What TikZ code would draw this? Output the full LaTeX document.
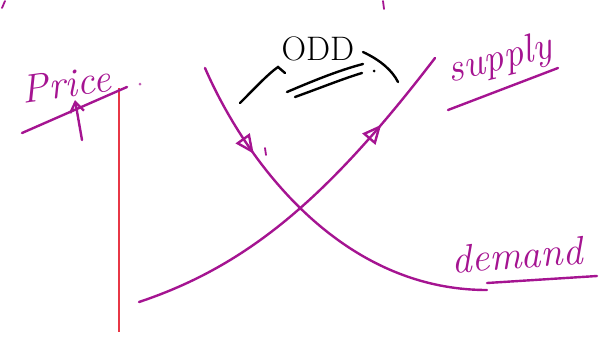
\documentclass[tikz,border=0pt]{standalone}
\usepackage{tikz}
\usetikzlibrary{arrows.meta,decorations.markings}

\definecolor{ink}{RGB}{165,20,145}
\definecolor{axisred}{RGB}{232,55,70}

\begin{document}
\begin{tikzpicture}[x=1pt,y=-1pt,
  pen/.style={draw=ink, line width=2.4pt, line cap=round},
  blk/.style={draw=black, line width=2.4pt, line cap=round},
  lbl/.style={text=ink, inner sep=0pt, font=\fontsize{40}{40}\selectfont\itshape},
  midarrow/.style={decoration={markings,
      mark=at position #1 with {\arrow{Triangle[open,length=19pt,width=17pt,line width=2.4pt]}}},
    postaction=decorate}
]
\useasboundingbox (0,0) rectangle (604,338);

% --- price axis ---
\coordinate (axtop) at (119,88);
\coordinate (axbot) at (119,332);
\draw[draw=axisred, line width=2.4pt] (axtop) -- (axbot);

\node[lbl, rotate=8] (price) at (66,84) {Price};
\coordinate (pu1) at (22,133);
\coordinate (pu2) at (127,87);
\draw[pen] (pu1) -- (pu2);
\coordinate (pa1) at (82,140);
\coordinate (pa2) at (75,100);
\draw[pen, -{Straight Barb[length=10pt,width=14pt]}] (pa1) -- (pa2);

% --- demand curve ---
\coordinate (d0) at (205,68);
\coordinate (d1) at (487,290);
\draw[pen, midarrow=0.26] (d0) .. controls (245,160) and (340,290) .. (d1);

\node[lbl, rotate=4] (demand) at (517,255) {demand};
\coordinate (du1) at (487,283);
\coordinate (du2) at (597,276);
\draw[pen] (du1) -- (du2);

% --- supply curve ---
\coordinate (s0) at (139,302);
\coordinate (s1) at (435,58);
\draw[pen, midarrow=0.78] (s0) .. controls (250,265) and (330,195) .. (s1);

\node[lbl, rotate=14] (supply) at (500,60) {supply};
\coordinate (su1) at (448,110);
\coordinate (su2) at (558,68);
\draw[pen] (su1) -- (su2);

% --- ODD remark ---
\node[text=black, inner sep=0pt, font=\fontsize{34}{34}\selectfont] (odd) at (318,49) {ODD};
\coordinate (la) at (240,103);
\coordinate (lb) at (278,67);
\coordinate (lc) at (285,73);
\draw[blk] (la) .. controls (255,88) and (268,74) .. (lb) -- (lc);
\coordinate (ra) at (363,52);
\coordinate (rb) at (398,82);
\draw[blk] (ra) .. controls (380,60) and (392,70) .. (rb);
\coordinate (e1) at (287,92);
\coordinate (e2) at (363,64);
\coordinate (e3) at (295,97);
\coordinate (e4) at (362,73);
\draw[blk] (e1) .. controls (315,80) and (340,70) .. (e2);
\draw[blk] (e3) .. controls (320,88) and (345,78) .. (e4);
\fill (374,71) circle (1.5pt);

% --- stray marks ---
\fill[ink!70] (140,84) circle (1.5pt);
\draw[pen, line width=1.8pt] (265,148) -- (266,155);
\draw[pen, line width=1.8pt] (2,8) -- (5,1);
\draw[pen, line width=1.8pt] (383,1) -- (384,9);

\end{tikzpicture}
\end{document}
